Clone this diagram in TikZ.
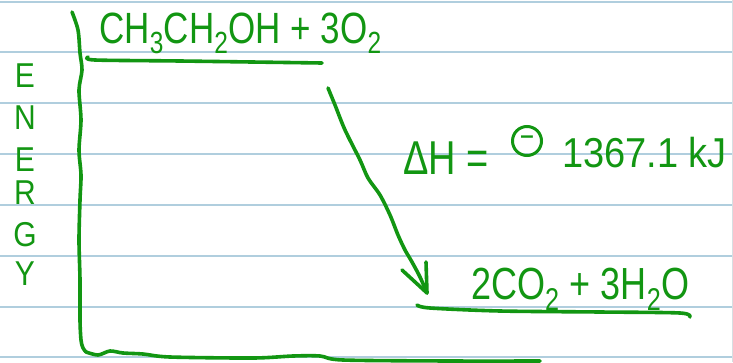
\documentclass[tikz,border=0pt]{standalone}
\usepackage{fontspec}
\setmainfont{Liberation Sans}
\definecolor{ink}{RGB}{18,150,18}
\definecolor{rule}{RGB}{176,206,222}
\definecolor{edge}{RGB}{215,222,226}
\newcommand{\tallA}[1]{\scalebox{1}[1.25]{#1}}
\newcommand{\tallB}[1]{\scalebox{1}[1.15]{#1}}
\newcommand{\lo}[1]{\textsubscript{#1}}
\tikzset{
  pen/.style={draw=ink, line width=3.6pt, line cap=round, line join=round},
  ruled/.style={draw=rule, line width=1.8pt},
  hand/.style={text=ink, inner sep=0pt, font=\fontsize{35}{40}\selectfont},
  letter/.style={text=ink, inner sep=0pt, font=\fontsize{30}{36}\selectfont},
}
\begin{document}
\begin{tikzpicture}[x=1pt,y=-1pt]
\useasboundingbox (0,0) rectangle (733,362);
\fill[white] (0,0) rectangle (733,362);
% ruled paper
\foreach \yy in {2,52,103,154,205,256,307,357} {
  \draw[ruled] (0,\yy) -- (733,\yy);
}
\draw[draw=edge, line width=1pt] (732,0) -- (732,362);
% axes
\draw[pen] plot[smooth] coordinates {(72,12) (78,30) (80,53) (82,70) (79,90) (81,120) (79,150) (81,175) (80,200) (79,240) (80,280) (80,320) (81,340) (83,348) (86,352)};
\draw[pen] plot[smooth] coordinates {(86,352) (98,355) (110,351) (123,353) (143,354) (170,357) (253,358) (293,356) (320,356) (343,360) (450,361) (540,361)};
% ENERGY
\foreach \ch/\yy/\nm in {E/76/e1, N/118/e2, E/160/e3, R/193/e4, G/235/e5, Y/274/e6} {
  \node[letter] (\nm) at (25,\yy) {\tallB{\ch}};
}
% reactant level
\node[hand, anchor=base west] (react) at (99,43) {\tallA{CH\lo{3}CH\lo{2}OH + 3O\lo{2}}};
\draw[pen] plot[smooth] coordinates {(88,57) (95,60) (180,61) (322,63)};
% product level
\node[hand, anchor=base west, font=\fontsize{36}{40}\selectfont] (prod) at (471,299) {\tallA{2CO\lo{2} + 3H\lo{2}O}};
\draw[pen] plot[smooth] coordinates {(417,305) (430,308) (500,311) (600,312) (680,313) (690,317)};
% arrow
\coordinate (arrS) at (328,88);
\coordinate (arrE) at (427,293);
\coordinate (armL) at (402,270);
\coordinate (armR) at (426,262);
\draw[pen] plot[smooth] coordinates {(arrS) (335,105) (345,130) (360,160) (368,178) (380,195) (390,215) (398,235) (405,250) (412,262) (420,277) (arrE)};
\draw[pen] (armL) -- (arrE) -- (armR);
% Delta H
\node[hand, anchor=base west, font=\fontsize{38}{42}\selectfont] (dh) at (403,174) {\tallA{ΔH =}};
\node[draw=ink, line width=3pt, circle, minimum size=29pt, inner sep=0pt, text=ink, font=\fontsize{24}{26}\selectfont\bfseries] (sign) at (527,141) {\raisebox{2pt}{–}};
\node[hand, anchor=base west, font=\fontsize{38}{42}\selectfont] (val) at (562,167) {\scalebox{1}[1.1]{1367.1 kJ}};
\end{tikzpicture}
\end{document}
